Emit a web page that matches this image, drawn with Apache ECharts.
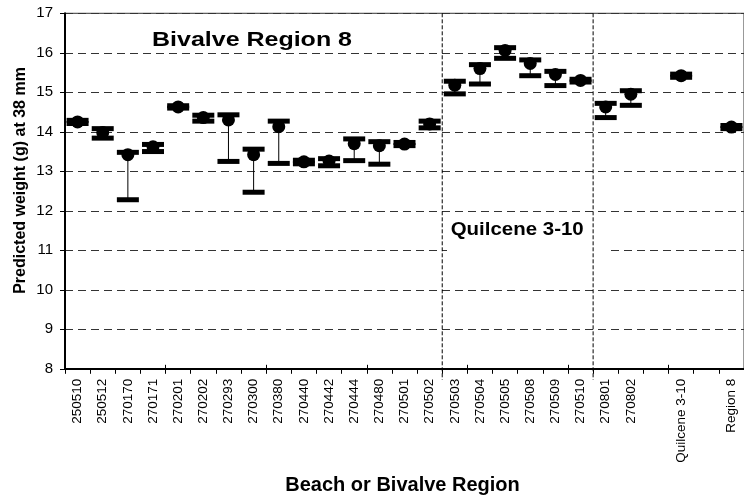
<!DOCTYPE html>
<html>
<head>
<meta charset="utf-8">
<script src="https://cdn.jsdelivr.net/npm/echarts@6/dist/echarts.min.js"></script>
<style>
html, body { margin: 0; padding: 0; background: #fff; }
#chart { width: 744px; height: 498px; }
</style>
</head>
<body>
<div id="chart"></div>
<script>
// beaches / regions along the x axis (empty slots are gaps)
const categories = ['250510', '250512', '270170', '270171', '270201', '270202', '270293', '270300',
  '270380', '270440', '270442', '270444', '270480', '270501', '270502', '270503', '270504',
  '270505', '270508', '270509', '270510', '270801', '270802', '', 'Quilcene 3-10', '', 'Region 8']

// predicted weight (g) at 38 mm: upper bound, estimate, lower bound
const highVals = [14.29, 14.08, 13.48, 13.68, 14.66, 14.42, 14.43, 13.56, 14.27, 13.28, 13.32, 13.82, 13.75, 13.73,
  14.27, 15.28, 15.70, 16.13, 15.82, 15.53, 15.33, 14.72, 15.04, null, 15.46, null, 14.16]
const meanVals = [14.25, 13.98, 13.42, 13.62, 14.63, 14.36, 14.30, 13.42, 14.13, 13.24, 13.26, 13.70, 13.65, 13.69,
  14.20, 15.18, 15.60, 16.06, 15.73, 15.45, 15.30, 14.63, 14.95, null, 15.42, null, 14.12]
const lowVals = [14.21, 13.84, 12.28, 13.50, 14.60, 14.27, 13.25, 12.47, 13.20, 13.19, 13.14, 13.27, 13.18, 13.65,
  14.10, 14.96, 15.21, 15.86, 15.42, 15.17, 15.26, 14.36, 14.67, null, 15.38, null, 14.08]

// dashed separators drawn on the left edge of these categories
const dividerAt = ['270503', '270801']

const yMin = 8
const yMax = 17

const font = '"Liberation Sans", Arial, sans-serif'

const markerData = []
categories.forEach((c, i) => {
  if (meanVals[i] == null) return
  markerData.push([i, lowVals[i], meanVals[i], highVals[i]])
})

// 高低线 + 圆点
const renderMarker = (params, api) => {
  const x = api.value(0)
  const lo = api.coord([x, api.value(1)])
  const mid = api.coord([x, api.value(2)])
  const hi = api.coord([x, api.value(3)])
  const barW = 22
  const barH = 5
  return {
    type: 'group',
    children: [
      { type: 'line', shape: { x1: hi[0], y1: hi[1], x2: lo[0], y2: lo[1] }, style: { stroke: '#000', lineWidth: 1 } },
      { type: 'circle', shape: { cx: mid[0], cy: mid[1], r: 6.5 }, style: { fill: '#000' } },
      { type: 'rect', shape: { x: hi[0] - barW / 2, y: hi[1] - barH / 2, width: barW, height: barH }, style: { fill: '#000' } },
      { type: 'rect', shape: { x: lo[0] - barW / 2, y: lo[1] - barH / 2, width: barW, height: barH }, style: { fill: '#000' } }
    ]
  }
}

const renderDivider = (params, api) => {
  const idx = api.value(0)
  const top = api.coord([idx, yMax])
  const bottom = api.coord([idx, yMin])
  const half = api.size([1, 0])[0] / 2
  const x = top[0] - half
  return {
    type: 'line',
    shape: { x1: x, y1: top[1], x2: x, y2: bottom[1] + 11 },
    style: { stroke: '#000', lineWidth: 1, lineDash: [4, 2] }
  }
}

const chart = echarts.init(document.getElementById('chart'))

const option = {
  animation: false,
  backgroundColor: '#fff',
  grid: {
    left: 65,
    right: -4,
    top: 13.3,
    bottom: 129.2,
    show: true,
    borderColor: '#333',
    borderWidth: 1
  },
  xAxis: [
    {
      type: 'category',
      data: categories,
      position: 'bottom',
      axisLine: { lineStyle: { color: '#000', width: 2 } },
      axisTick: { show: true, length: 5, lineStyle: { color: '#000', width: 1 } },
      axisLabel: {
        interval: 0,
        rotate: 90,
        margin: 10,
        color: '#000',
        fontFamily: font,
        fontSize: 13.5
      },
      splitLine: { show: false }
    },
    {
      type: 'category',
      data: categories,
      position: 'bottom',
      axisLine: { show: false },
      axisTick: { show: true, inside: true, length: 4, lineStyle: { color: '#000', width: 1 } },
      axisLabel: { show: false },
      splitLine: { show: false }
    }
  ],
  yAxis: {
    type: 'value',
    min: yMin,
    max: yMax,
    interval: 1,
    axisLine: { show: true, lineStyle: { color: '#000', width: 2 } },
    axisTick: { show: true, length: 5, lineStyle: { color: '#000', width: 1 } },
    axisLabel: { margin: 12, color: '#000', fontFamily: font, fontSize: 15 },
    splitLine: { show: true, lineStyle: { color: '#333', width: 1, type: [8, 5] } }
  },
  graphic: [
    // white box behind the "Quilcene 3-10" label hides the gridline
    { type: 'rect', z: 1, shape: { x: 447, y: 214, width: 162, height: 42 }, style: { fill: '#fff' } },
    {
      type: 'text', z: 5, x: 152, y: 40.4, scaleX: 1.19,
      style: { text: 'Bivalve Region 8', font: 'bold 21px ' + font, fill: '#000', align: 'left', verticalAlign: 'middle' }
    },
    {
      type: 'text', z: 5, x: 450.7, y: 229.4, scaleX: 1.1,
      style: { text: 'Quilcene 3-10', font: 'bold 18.6px ' + font, fill: '#000', align: 'left', verticalAlign: 'middle' }
    },
    {
      type: 'text', z: 5, x: 20.4, y: 180.5, rotation: Math.PI / 2,
      style: { text: 'Predicted weight (g) at 38 mm', font: 'bold 16px ' + font, fill: '#000', align: 'center', verticalAlign: 'middle' }
    },
    {
      type: 'text', z: 5, x: 402.5, y: 485.8,
      style: { text: 'Beach or Bivalve Region', font: 'bold 20px ' + font, fill: '#000', align: 'center', verticalAlign: 'middle' }
    }
  ],
  series: [
    {
      type: 'custom',
      name: 'dividers',
      xAxisIndex: 0,
      renderItem: renderDivider,
      encode: { x: 0, y: 1 },
      data: dividerAt.map(c => [categories.indexOf(c), yMax]),
      z: 3
    },
    {
      type: 'custom',
      name: 'weight',
      xAxisIndex: 0,
      renderItem: renderMarker,
      encode: { x: 0, y: [1, 2, 3] },
      data: markerData,
      z: 4
    }
  ]
}

chart.setOption(option)
</script>
</body>
</html>
